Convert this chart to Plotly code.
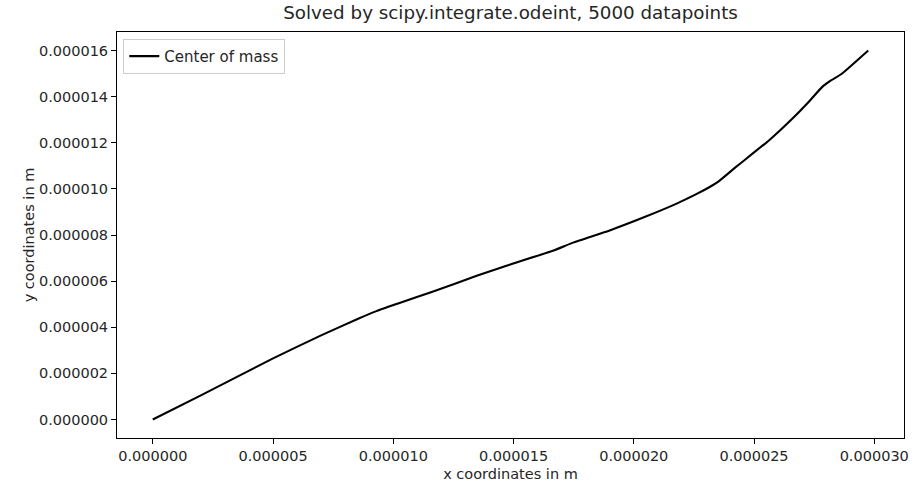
import plotly.graph_objects as go
import numpy as np

# Center of mass trajectory (metres)
x_m = [0.0, 2.0e-6, 4.96e-6, 7.0e-6, 8.54e-6, 9.3e-6, 10.2e-6, 11.57e-6, 13.5e-6, 14.74e-6,
       16.67e-6, 17.5e-6, 19.0e-6, 20.5e-6, 21.76e-6, 22.6e-6, 23.14e-6, 23.5e-6, 24.24e-6,
       25.62e-6, 26.59e-6, 27.3e-6, 27.83e-6, 28.2e-6, 28.65e-6, 29.75e-6]
y_m = [0.0, 1.05e-6, 2.63e-6, 3.65e-6, 4.37e-6, 4.70e-6, 5.03e-6, 5.52e-6, 6.24e-6, 6.68e-6,
       7.33e-6, 7.68e-6, 8.2e-6, 8.8e-6, 9.35e-6, 9.77e-6, 10.07e-6, 10.30e-6, 10.94e-6,
       12.1e-6, 13.04e-6, 13.8e-6, 14.41e-6, 14.7e-6, 14.99e-6, 16.0e-6]

x_ticks = [0.0, 5e-6, 10e-6, 15e-6, 20e-6, 25e-6, 30e-6]
y_ticks = [0.0, 2e-6, 4e-6, 6e-6, 8e-6, 10e-6, 12e-6, 14e-6, 16e-6]

title_text = "Solved by scipy.integrate.odeint, 5000 datapoints"
x_label = "x coordinates in m"
y_label = "y coordinates in m"
series_name = "Center of mass"

FONT = "DejaVu Sans"
FS = 14.5

fig = go.Figure()
fig.add_trace(go.Scatter(x=x_m, y=y_m, mode="lines", name=series_name,
                         line=dict(color="black", width=2.1, shape="spline", smoothing=0.4)))

xr = max(x_m) - min(x_m)
yr = max(y_m) - min(y_m)

axis_common = dict(showline=True, linecolor="black", linewidth=1, mirror=True,
                   ticks="outside", ticklen=5, tickwidth=1, tickcolor="black",
                   showgrid=False, zeroline=False, tickformat=".6f",
                   tickfont=dict(family=FONT, size=FS, color="#262626"))

fig.update_layout(
    width=916, height=488,
    margin=dict(l=117, r=7, t=32, b=50),
    paper_bgcolor="white", plot_bgcolor="white",
    font=dict(family=FONT, size=FS, color="#262626"),
    title=dict(text=title_text, x=0.5, xref="paper", xanchor="center",
               y=1 - 13 / 488, yref="container", yanchor="middle",
               font=dict(family=FONT, size=18.3, color="#262626")),
    xaxis=dict(range=[min(x_m) - 0.05 * xr, max(x_m) + 0.05 * xr], tickvals=x_ticks,
               title=dict(text=x_label, standoff=5, font=dict(family=FONT, size=FS)),
               **axis_common),
    yaxis=dict(range=[min(y_m) - 0.05 * yr, max(y_m) + 0.05 * yr], tickvals=y_ticks,
               title=dict(text=y_label, standoff=0, font=dict(family=FONT, size=FS)),
               **axis_common),
    legend=dict(x=0.008, y=0.983, xanchor="left", yanchor="top",
                bgcolor="rgba(255,255,255,0.8)", bordercolor="#cccccc", borderwidth=1,
                font=dict(family=FONT, size=15, color="#262626")),
    showlegend=True,
)

fig.write_html("out.html")
